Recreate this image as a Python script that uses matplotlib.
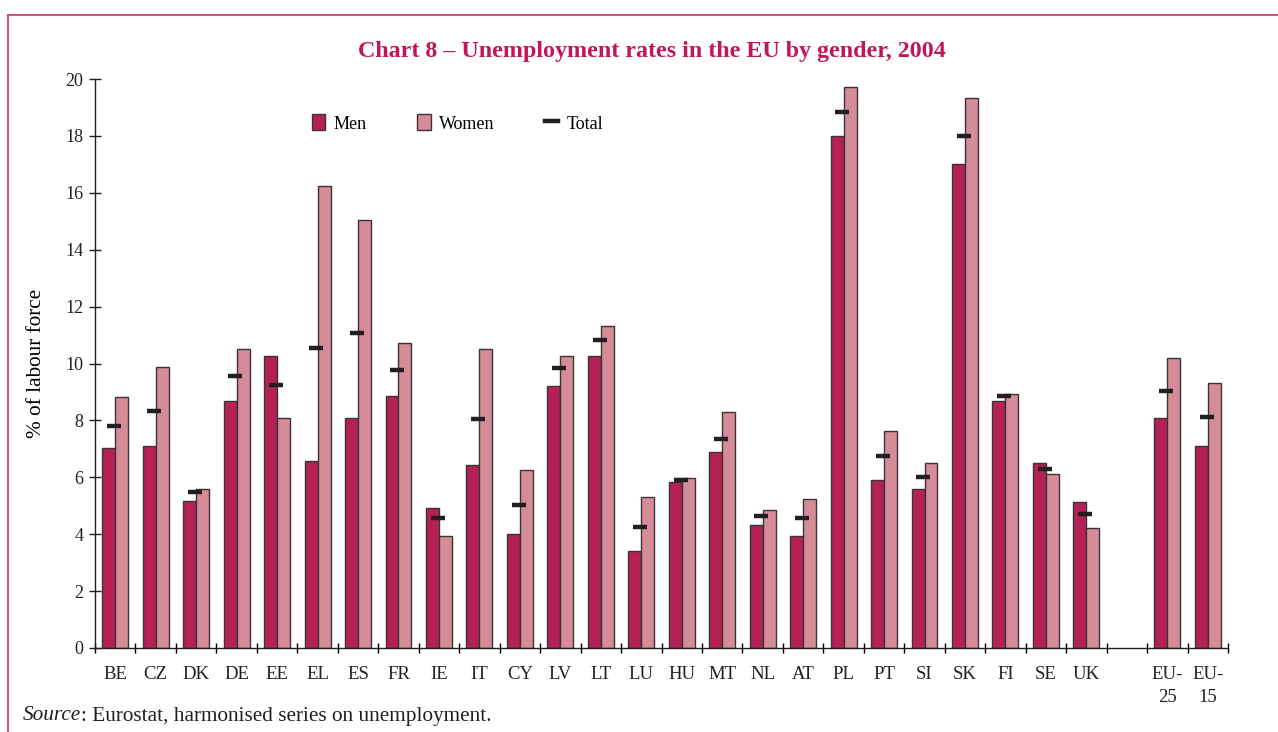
import numpy as np
import matplotlib
matplotlib.use("Agg")
import matplotlib.pyplot as plt
from matplotlib.patches import Patch
from matplotlib.lines import Line2D

plt.rcParams['font.family'] = ['Liberation Serif', 'DejaVu Serif']

# data (% of labour force, 2004)
countries = ["BE", "CZ", "DK", "DE", "EE", "EL", "ES", "FR", "IE", "IT",
             "CY", "LV", "LT", "LU", "HU", "MT", "NL", "AT", "PL", "PT",
             "SI", "SK", "FI", "SE", "UK", "", "EU-\n25", "EU-\n15"]
men = [7.03, 7.11, 5.17, 8.69, 10.26, 6.57, 8.07, 8.85, 4.91, 6.43,
       4.00, 9.21, 10.26, 3.40, 5.82, 6.88, 4.31, 3.93, 17.98, 5.89,
       5.59, 17.00, 8.69, 6.50, 5.14, np.nan, 8.10, 7.11]
women = [8.83, 9.89, 5.59, 10.50, 8.07, 16.24, 15.03, 10.72, 3.93, 10.50,
         6.27, 10.27, 11.33, 5.30, 5.96, 8.31, 4.84, 5.22, 19.71, 7.63,
         6.50, 19.32, 8.92, 6.13, 4.23, np.nan, 10.20, 9.30]
total = [7.81, 8.34, 5.48, 9.57, 9.26, 10.56, 11.08, 9.78, 4.58, 8.06,
         5.04, 9.85, 10.84, 4.27, 5.92, 7.36, 4.65, 4.58, 18.84, 6.76,
         6.02, 18.00, 8.87, 6.30, 4.72, np.nan, 9.04, 8.13]

MEN_C = '#B52157'
WOMEN_C = '#D68C98'
EDGE_C = '#3a3434'
TITLE_C = '#C2155B'
FRAME_C = '#C8346E'

fig = plt.figure(figsize=(12.78, 7.32), dpi=100)
ax = fig.add_axes([95 / 1278, 1 - 648 / 732, (1228 - 95) / 1278, (648 - 79) / 732])

x = np.arange(len(countries))
w = 0.32
ax.bar(x - w / 2, men, w, color=MEN_C, edgecolor=EDGE_C, linewidth=1.0, label='Men')
ax.bar(x + w / 2, women, w, color=WOMEN_C, edgecolor=EDGE_C, linewidth=1.0, label='Women')
ax.plot(x - 0.03, total, linestyle='none', marker='_', markersize=10.5,
        markeredgewidth=3.2, color='#231F20', label='Total')

ax.set_xlim(-0.5, len(countries) - 0.5)
ax.set_ylim(0, 20)
ax.set_yticks(np.arange(0, 21, 2))
ax.set_xticks(np.arange(len(countries) + 1) - 0.5)
ax.set_xticklabels([])
ax.set_xticks(x, minor=True)
ax.set_xticklabels(countries, minor=True, linespacing=1.45, va='top')

ax.tick_params(axis='y', direction='inout', length=8.5, width=1, labelsize=13,
               pad=4, colors='#231F20')
ax.tick_params(axis='x', which='major', direction='inout', length=7, width=1)
ax.tick_params(axis='x', which='minor', length=0, labelsize=13.5, pad=13,
               colors='#231F20')
for lab in ax.get_xticklabels(minor=True):
    lab.set_horizontalalignment('center')

for s in ['top', 'right']:
    ax.spines[s].set_visible(False)
for s in ['left', 'bottom']:
    ax.spines[s].set_color('#231F20')
    ax.spines[s].set_linewidth(1.0)

ax.set_ylabel('% of labour force', fontsize=15.3, labelpad=14)

handles = [Patch(facecolor=MEN_C, edgecolor=EDGE_C, linewidth=1.0),
           Patch(facecolor=WOMEN_C, edgecolor=EDGE_C, linewidth=1.0),
           Line2D([], [], color='#231F20', linewidth=3.2)]
leg = ax.legend(handles, ['Men', 'Women', 'Total'], ncol=3, frameon=False,
                loc='center left', bbox_to_anchor=(0.177, 0.922),
                fontsize=13, handlelength=0.75, handleheight=1.0,
                handletextpad=0.45, columnspacing=2.8)

fig.text(0.51, 1 - 52 / 732, 'Chart 8 \u2013 Unemployment rates in the EU by gender, 2004',
         ha='center', va='center', fontsize=17.3, fontweight='bold', color=TITLE_C)

# frame (top and left rule)
fig.add_artist(Line2D([8 / 1278, 1], [1 - 15 / 732, 1 - 15 / 732],
                      color=FRAME_C, linewidth=1.2, transform=fig.transFigure))
fig.add_artist(Line2D([8 / 1278, 8 / 1278], [0, 1 - 15 / 732],
                      color=FRAME_C, linewidth=1.2, transform=fig.transFigure))

# source note: italic word followed by regular text
t1 = fig.text(23 / 1278, 1 - 716 / 732, 'Source', fontsize=15.3, style='italic',
              va='center', color='#231F20')
fig.canvas.draw()
bb = t1.get_window_extent()
fig.text(bb.x1 / fig.bbox.width, 1 - 716 / 732,
         ': Eurostat, harmonised series on unemployment.', fontsize=15.3,
         va='center', color='#231F20')

fig.savefig('out.png', dpi=100)
